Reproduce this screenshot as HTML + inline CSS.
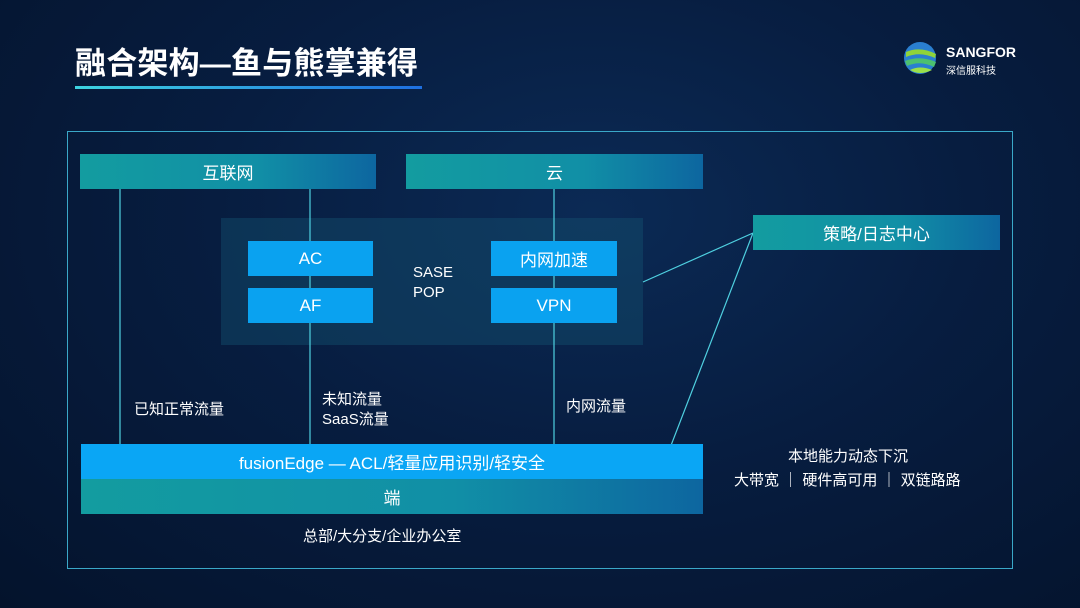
<!DOCTYPE html>
<html><head><meta charset="utf-8"><style>
body{margin:0;width:1080px;height:608px;overflow:hidden;background:radial-gradient(ellipse at 55% 35%,#0b2a55 0%,#071d40 45%,#04132c 100%);font-family:"Liberation Sans","Noto Sans CJK SC",sans-serif;color:#fff;position:relative}
.a{position:absolute}
.bar{position:absolute;background:linear-gradient(90deg,#139ca0,#118fa6 60%,#0d66a0);display:flex;align-items:center;justify-content:center;font-size:17px}
.box{position:absolute;background:#0aa2f0;display:flex;align-items:center;justify-content:center;font-size:17px}
.t{position:absolute;font-size:15px;line-height:20px;white-space:nowrap}
</style></head><body>
<div class="a" style="left:75px;top:38px;font-size:31px;font-weight:bold;letter-spacing:0.2px">融合架构—鱼与熊掌兼得</div>
<div class="a" style="left:75px;top:86px;width:347px;height:3px;background:linear-gradient(90deg,#3dd3e0,#1e6fe0)"></div>
<svg class="a" style="left:902px;top:40px" width="40" height="36" viewBox="0 0 40 36"><ellipse cx="18" cy="18" rx="16" ry="16" fill="#2a7fd0"/><path d="M4 12 Q18 6 34 14 L33 18 Q18 11 4 17Z" fill="#8fd43a"/><path d="M3 21 Q18 15 34 22 L32 27 Q18 20 5 26Z" fill="#4cc070"/><path d="M8 30 Q18 25 30 30 Q18 36 8 30Z" fill="#9be04a"/></svg>
<div class="a" style="left:946px;top:44px;font-size:14px;font-weight:bold">SANGFOR</div>
<div class="a" style="left:946px;top:62px;font-size:10px">深信服科技</div>
<div class="a" style="left:67px;top:131px;width:944px;height:436px;border:1.5px solid #3aa8c8"></div>
<div class="a" style="left:221px;top:218px;width:422px;height:127px;background:rgba(20,80,110,0.45)"></div>
<svg class="a" style="left:0;top:0" width="1080" height="608"><g stroke="#4fd0e0" stroke-width="1.2" fill="none"><line x1="120" y1="189" x2="120" y2="444"/><line x1="310" y1="189" x2="310" y2="444"/><line x1="554" y1="189" x2="554" y2="444"/><line x1="643" y1="282" x2="753" y2="233"/><line x1="670" y1="448" x2="753" y2="233"/></g></svg>
<div class="bar" style="left:80px;top:154px;width:296px;height:35px">互联网</div>
<div class="bar" style="left:406px;top:154px;width:297px;height:35px">云</div>
<div class="bar" style="left:753px;top:215px;width:247px;height:35px">策略/日志中心</div>
<div class="box" style="left:248px;top:241px;width:125px;height:35px">AC</div>
<div class="box" style="left:248px;top:288px;width:125px;height:35px">AF</div>
<div class="box" style="left:491px;top:241px;width:126px;height:35px">内网加速</div>
<div class="box" style="left:491px;top:288px;width:126px;height:35px">VPN</div>
<div class="t" style="left:413px;top:263px">SASE<br>POP</div>
<div class="t" style="left:134px;top:400px">已知正常流量</div>
<div class="t" style="left:322px;top:390px">未知流量<br>SaaS流量</div>
<div class="t" style="left:566px;top:397px">内网流量</div>
<div class="box" style="left:81px;top:444px;width:622px;height:35px;background:#0aa6f5">fusionEdge — ACL/轻量应用识别/轻安全</div>
<div class="bar" style="left:81px;top:479px;width:622px;height:35px">端</div>
<div class="t" style="left:303px;top:527px">总部/大分支/企业办公室</div>
<div class="t" style="left:788px;top:447px">本地能力动态下沉</div>
<div class="t" style="left:734px;top:471px">大带宽 ｜ 硬件高可用 ｜ 双链路路</div>
</body></html>
